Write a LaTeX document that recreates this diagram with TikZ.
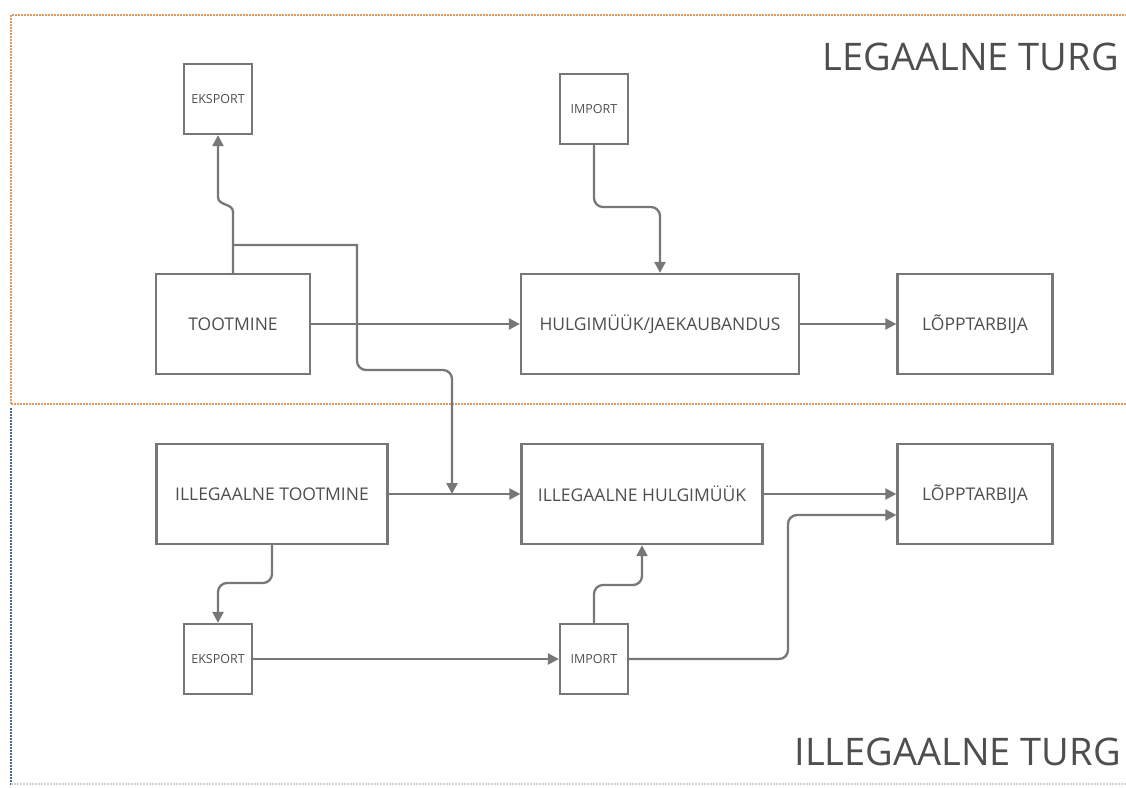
\documentclass[tikz,border=0pt]{standalone}
\usepackage{fontspec}
\setmainfont{Open Sans}
\usetikzlibrary{arrows.meta,calc}
\definecolor{linegray}{HTML}{777777}
\definecolor{textgray}{HTML}{4E4E4E}
\definecolor{legalorange}{HTML}{E49A5E}
\definecolor{illegalblue}{HTML}{4A6A8C}
\definecolor{faintgray}{HTML}{D4D4D4}
\tikzset{
  box/.style={draw=linegray, line width=2.3pt, text=textgray, inner sep=0pt,
    font=\fontsize{17.5}{20}\selectfont},
  bigbox/.style={box, minimum width=#1, minimum height=100pt},
  smallbox/.style={box, minimum width=68pt, minimum height=70pt,
    font=\fontsize{12.5}{15}\selectfont},
  conn/.style={draw=linegray, line width=2.3pt},
  arr/.style={conn, -{Triangle[length=11pt,width=11pt]}},
  frame/.style={line width=2pt, densely dotted},
  title/.style={text=textgray, inner sep=0pt, font=\fontsize{38}{44}\selectfont},
}
\begin{document}
\begin{tikzpicture}[x=1pt,y=-1pt]
\useasboundingbox (0,0) rectangle (1126,787);
% frames
\draw[frame, legalorange] (11,404) -- (11,15) -- (1126,15);
\draw[frame, legalorange] (11,404) -- (1126,404);
\draw[frame, illegalblue] (11,408) -- (11,786);
\draw[frame, faintgray] (11,784) -- (1126,784);
% titles
\node[title, anchor=base east] (tlegal) at (1119,70) {LEGAALNE TURG};
\node[title, anchor=base east] (tillegal) at (1121,765) {ILLEGAALNE TURG};
% legal market
\node[smallbox] (ekspT) at (218,99) {EKSPORT};
\node[smallbox] (impT) at (594,109) {IMPORT};
\node[bigbox=154pt] (toot) at (233,324) {TOOTMINE};
\node[bigbox=278pt] (hulg) at (660,324) {HULGIMÜÜK/JAEKAUBANDUS};
\node[bigbox=155pt] (lopT) at (975,324) {LÕPPTARBIJA};
% illegal market
\node[bigbox=231pt] (itoot) at (272,494) {ILLEGAALNE TOOTMINE};
\node[bigbox=241pt] (ihulg) at (642,494) {ILLEGAALNE HULGIMÜÜK};
\node[bigbox=155pt] (lopB) at (975,494) {LÕPPTARBIJA};
\node[smallbox] (ekspB) at (218,659) {EKSPORT};
\node[smallbox] (impB) at (594,659) {IMPORT};
% helper coordinates
\coordinate (jn) at (toot.north |- 0,245);
\coordinate (meet) at (452,494);
% connectors
\draw[arr] (toot.north) -- (toot.north |- 0,212) .. controls (233,203) and (218,206) .. (218,197) -- (ekspT.south);
\draw[arr] (jn) -- (357,245) [rounded corners=9pt] -- (357,370) -- (452,370) -- (meet);
\draw[arr] (toot.east) -- (hulg.west);
\draw[arr, rounded corners=9pt] (impT.south) -- (594,207) -- (660,207) -- (hulg.north);
\draw[arr] (hulg.east) -- (lopT.west);
\draw[arr] (itoot.east) -- (ihulg.west);
\draw[arr] (ihulg.east) -- (lopB.west);
\draw[arr, rounded corners=9pt] (itoot.south) -- (272,583) -- (218,583) -- (ekspB.north);
\draw[arr] (ekspB.east) -- (impB.west);
\draw[arr, rounded corners=9pt] (impB.north) -- (594,585) -- (642,585) -- (ihulg.south);
\draw[arr, rounded corners=9pt] (impB.east) -- (788,659) -- (788,515) -- (lopB.west |- 0,515);
\end{tikzpicture}
\end{document}
